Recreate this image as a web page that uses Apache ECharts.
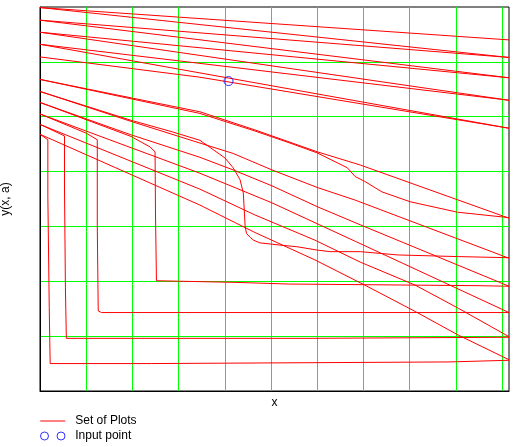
<!DOCTYPE html>
<html>
<head>
<meta charset="utf-8">
<script src="https://cdn.jsdelivr.net/npm/echarts@6/dist/echarts.min.js"></script>
<style>
  html, body { margin: 0; padding: 0; background: #fff; }
  #chart { width: 515px; height: 447px; }
</style>
</head>
<body>
<div id="chart"></div>
<script>
// Axis ranges (no tick labels are shown in the reference)
const X_MIN = 0, X_MAX = 10.15, X_STEP = 1;
const Y_MIN = 0, Y_MAX = 7, Y_STEP = 1;

// Upper family of curves
const upper1 = [[0, 6.99], [10.15, 6.40]];
const upper2 = [[0, 6.99], [10.15, 6.08]];
const upper3 = [[0, 6.76], [10.15, 6.08]];
const upper4 = [[0, 6.76], [10.15, 5.71]];
const upper5 = [[0, 6.54], [10.15, 5.71]];
const upper6 = [[0, 6.54], [10.15, 5.30]];
const upper7 = [[0, 6.32], [10.15, 5.30]];
const upper8 = [[0, 6.32], [10.15, 4.79]];
const upper9 = [[0, 6.09], [3.46, 5.72], [10.15, 4.79]];

// Lower family: straight-ish curves
const slope0 = [[0, 5.68], [3.46, 5.09], [4.65, 4.76], [6.0, 4.36], [6.93, 4.12], [10.15, 3.15]];
const slope1 = [[0, 5.46], [1.95, 4.92], [3.46, 4.52], [4.18, 4.33], [5.02, 4.03], [6.0, 3.71], [6.82, 3.48], [10.15, 2.42]];
const slope2 = [[0, 5.26], [1.97, 4.67], [3.46, 4.26], [4.18, 4.03], [5.02, 3.74], [6.0, 3.36], [6.93, 3.03], [10.15, 1.91]];
const slope3 = [[0, 5.05], [3.46, 3.97], [5.02, 3.43], [6.82, 2.73], [10.15, 1.43]];
const slope4 = [[0, 4.86], [3.46, 3.68], [4.65, 3.21], [5.95, 2.75], [6.93, 2.35], [8.12, 1.93], [9.05, 1.51], [10.15, 0.99]];
const slope5 = [[0, 4.68], [3.46, 3.39], [4.65, 2.89], [5.95, 2.39], [7.03, 1.93], [8.12, 1.45], [9.05, 1.02], [10.15, 0.57]];

// Lower family: curves with a knee (drop, then level)
const knee0 = [[0, 5.68], [3.46, 5.06], [4.65, 4.74], [5.41, 4.52], [6.0, 4.34], [6.65, 4.07], [6.82, 3.91], [7.03, 3.82], [7.40, 3.63], [8.01, 3.45], [9.03, 3.26], [10.15, 3.16]];
const knee1 = [[0, 5.46], [1.95, 4.94], [2.88, 4.72], [3.46, 4.57], [4.0, 4.25], [4.18, 4.07], [4.33, 3.85], [4.40, 3.61], [4.42, 3.30], [4.44, 2.99], [4.47, 2.87], [4.55, 2.80], [4.62, 2.75], [4.76, 2.70], [4.98, 2.68], [5.19, 2.66], [5.56, 2.63], [5.99, 2.57], [6.28, 2.54], [6.93, 2.54], [7.75, 2.48], [9.05, 2.45], [10.15, 2.43]];
const knee2 = [[0, 5.26], [1.97, 4.64], [2.38, 4.45], [2.49, 4.36], [2.50, 3.19], [2.52, 3.19], [2.52, 2.01], [2.55, 2.01], [4.24, 1.98], [5.37, 1.95], [9.48, 1.92], [10.15, 1.91]];
const knee3 = [[0, 5.05], [1.0, 4.70], [1.24, 4.58], [1.24, 3.0], [1.26, 3.0], [1.26, 1.46], [1.33, 1.43], [10.15, 1.43]];
const knee4 = [[0, 4.86], [0.53, 4.65], [0.53, 3.70], [0.55, 3.70], [0.55, 1.88], [0.57, 1.88], [0.57, 0.96], [5.80, 0.96], [5.80, 0.98], [10.15, 0.98]];
const knee5 = [[0, 4.68], [0.17, 4.58], [0.17, 3.55], [0.20, 3.55], [0.20, 1.52], [0.22, 1.52], [0.22, 0.50], [2.42, 0.50], [2.42, 0.53], [8.87, 0.53], [8.87, 0.56], [10.15, 0.56]];

// Input point
const inputPoint = [[4.08, 5.65]];

const curves = [upper1, upper2, upper3, upper4, upper5, upper6, upper7, upper8, upper9,
  slope0, slope1, slope2, slope3, slope4, slope5,
  knee0, knee1, knee2, knee3, knee4, knee5];

const FONT = "'Liberation Sans', Arial, sans-serif";
const chart = echarts.init(document.getElementById('chart'), null, { renderer: 'canvas' });

const series = curves.map(c => ({
  name: 'Set of Plots',
  type: 'line',
  data: c,
  symbol: 'none',
  showSymbol: false,
  lineStyle: { color: '#ff0000', width: 1 },
  itemStyle: { color: '#ff0000' },
  z: 3
}));
series.push({
  name: 'Input point',
  type: 'scatter',
  data: inputPoint,
  symbol: 'circle',
  symbolSize: 9,
  itemStyle: { color: 'rgba(0,0,0,0)', borderColor: '#0000ff', borderWidth: 1 },
  z: 4
});

chart.setOption({
  animation: false,
  backgroundColor: '#ffffff',
  grid: { left: 40, top: 7, width: 469, height: 384, outerBoundsMode: 'none', containLabel: false,
          show: true, borderColor: '#000', borderWidth: 1, backgroundColor: 'transparent' },
  xAxis: {
    type: 'value', min: X_MIN, max: X_MAX, interval: X_STEP,
    name: 'x', nameLocation: 'middle', nameGap: 6,
    nameTextStyle: { fontFamily: FONT, fontSize: 12, color: '#000' },
    axisLine: { show: true, lineStyle: { color: '#000' } },
    axisTick: { show: false }, axisLabel: { show: false },
    splitLine: { show: true, showMinLine: false, showMaxLine: false, lineStyle: { color: '#00ff00', width: 1 } }
  },
  yAxis: {
    type: 'value', min: Y_MIN, max: Y_MAX, interval: Y_STEP,
    name: 'y(x, a)', nameLocation: 'middle', nameGap: 28,
    nameTextStyle: { fontFamily: FONT, fontSize: 12, color: '#000' },
    axisLine: { show: true, lineStyle: { color: '#000' } },
    axisTick: { show: false }, axisLabel: { show: false },
    splitLine: { show: true, showMinLine: false, showMaxLine: false, lineStyle: { color: '#00ff00', width: 1 } }
  },
  legend: {
    orient: 'vertical', left: 40, top: 415, padding: 0,
    itemWidth: 25, itemHeight: 8, itemGap: 3,
    selectedMode: false,
    textStyle: { fontFamily: FONT, fontSize: 12, color: '#000', padding: [0, 0, 0, 5] },
    data: [
      { name: 'Set of Plots', icon: 'path://M0,0M0,3.5H25V4.5H0ZM25,8',
        itemStyle: { color: '#ff0000', borderWidth: 0 } },
      { name: 'Input point', icon: 'path://M0,4A4,4,0,1,1,8,4A4,4,0,1,1,0,4Z M16.5,4A4,4,0,1,1,24.5,4A4,4,0,1,1,16.5,4Z',
        itemStyle: { color: 'rgba(0,0,0,0)', borderColor: '#0000ff', borderWidth: 1 } }
    ]
  },
  series: series
});
</script>
</body>
</html>
